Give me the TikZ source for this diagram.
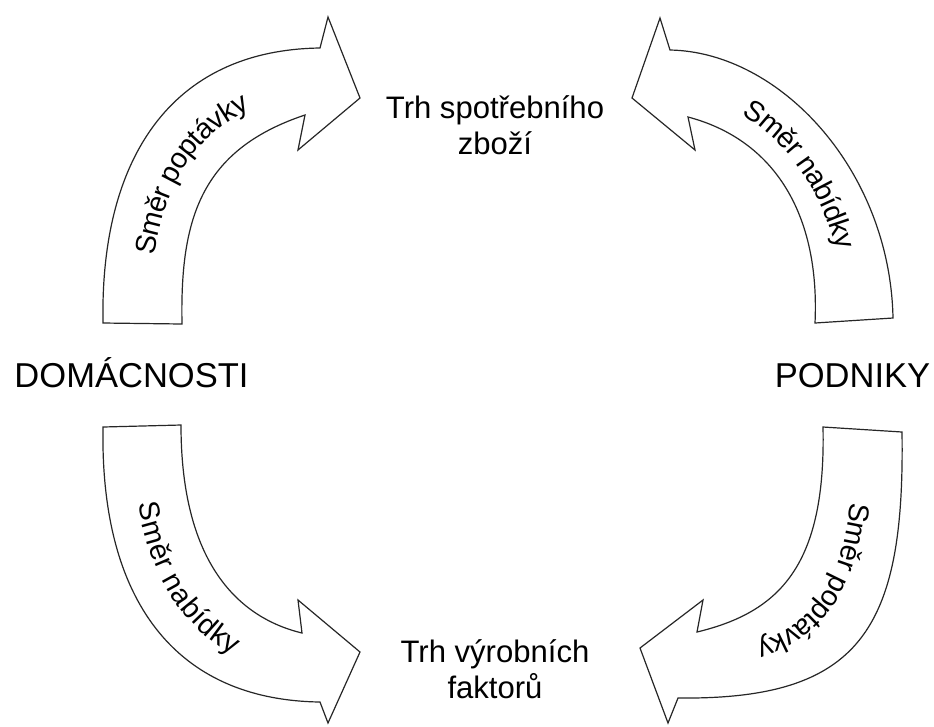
\documentclass[tikz,border=0pt]{standalone}
\usepackage{fontspec}
\setmainfont{Liberation Sans}
\usetikzlibrary{decorations.text}

\begin{document}
\begin{tikzpicture}[x=0.75pt, y=-0.75pt,
        flow_arrow/.style={draw=black!85, line width=0.9pt, fill=white, line join=miter},
        side_label/.style={font=\fontsize{25.9}{31}\selectfont, inner sep=0pt, anchor=base},
        market_label/.style={font=\fontsize{23.3}{26.6}\selectfont, align=center, inner sep=0pt, anchor=base},
        arrow_text/.style={decorate, decoration={text along path, text align=center, raise=-7pt,
            text={|\fontsize{21.5}{25}\selectfont|#1}}}
        ]
            \useasboundingbox (0,0) rectangle (934,726);

            % Arrows
            % households -> consumer goods market
            \draw[flow_arrow] (103,323) .. controls (100,160) and (170,50) .. (320,48) -- (328,17) -- (360,98)
                -- (298,150) -- (305,115) .. controls (200,150) and (180,220) .. (182,324) -- cycle;
            % firms -> consumer goods market
            \draw[flow_arrow] (893,318) .. controls (890,170) and (780,52) .. (670,50) -- (660,18) -- (632,98)
                -- (695,150) -- (688,117) .. controls (775,140) and (820,215) .. (815,323) -- cycle;
            % households -> factor market
            \draw[flow_arrow] (181,425) -- (103,427) .. controls (100,600) and (175,700) .. (320,702) -- (328,723)
                -- (360,652) -- (298,600) -- (302,633) .. controls (240,618) and (181,565) .. (181,425) -- cycle;
            % firms -> factor market
            \draw[flow_arrow] (823,427) -- (902,432) .. controls (905,630) and (860,700) .. (678,698) -- (668,723)
                -- (640,648) -- (703,600) -- (697,632) .. controls (780,612) and (826,565) .. (823,427) -- cycle;

            % arrow text
            \path[arrow_text={Směr poptávky}] (142,323) .. controls (140,190) and (185,100) .. (312,82);
            \path[arrow_text={Směr nabídky}] (679,83) .. controls (777,96) and (855,192) .. (854,320);
            \path[arrow_text={Směr nabídky}] (142,426) .. controls (140,582) and (207,659) .. (311,667);
            \path[arrow_text={Směr poptávky}] (862,430) .. controls (865,597) and (820,656) .. (687,665);

            % text
            \node[side_label]   (households)     at (131.5,387) {DOMÁCNOSTI};
            \node[side_label]   (firms)          at (852.5,387) {PODNIKY};
            \node[market_label] (goods_market)   at (495,154)   {Trh spotřebního\\zboží};
            \node[market_label] (factor_market)  at (495,698)   {Trh výrobních\\faktorů};
        \end{tikzpicture}
\end{document}
